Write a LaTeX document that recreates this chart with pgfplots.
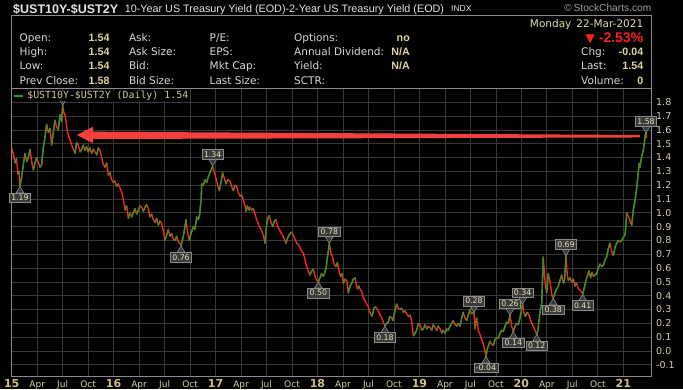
\documentclass[border=0pt]{standalone}
\usepackage{fontspec}
\usepackage{pgfplots}
\usepackage{pgfplotstable}
\pgfplotsset{compat=1.18}
\setmainfont{DejaVu Sans}
\newfontfamily\lib{Liberation Sans}
\newfontfamily\dmono{DejaVu Sans Mono}
\definecolor{bordergray}{HTML}{8C8C8C}
\definecolor{gridgray}{HTML}{383838}
\definecolor{tickbeige}{HTML}{D6CFA6}
\definecolor{yearbeige}{HTML}{CDBF85}
\definecolor{lblgray}{HTML}{D8D8D8}
\definecolor{valbeige}{HTML}{DCD4A0}
\definecolor{hdrgray}{HTML}{E4E4E4}
\definecolor{upgreen}{HTML}{1FA01F}
\definecolor{downred}{HTML}{FF2424}
\definecolor{arrowred}{HTML}{F43F3F}
\definecolor{boxfill}{HTML}{3A3A3A}
\definecolor{boxdraw}{HTML}{8A8A8A}
\definecolor{boxtext}{HTML}{EAE2BA}
\definecolor{legtext}{HTML}{D0C8A0}
\definecolor{pctred}{HTML}{FF2020}

\pgfdeclareplotmark{tipup}{%
  \pgfpathmoveto{\pgfqpoint{0pt}{0pt}}%
  \pgfpathlineto{\pgfqpoint{4pt}{-6.4pt}}%
  \pgfpathlineto{\pgfqpoint{-4pt}{-6.4pt}}%
  \pgfpathclose
  \pgfusepathqfillstroke}
\pgfdeclareplotmark{tipdown}{%
  \pgfpathmoveto{\pgfqpoint{0pt}{0pt}}%
  \pgfpathlineto{\pgfqpoint{4pt}{6.4pt}}%
  \pgfpathlineto{\pgfqpoint{-4pt}{6.4pt}}%
  \pgfpathclose
  \pgfusepathqfillstroke}

\newcommand{\yr}[1]{\textcolor{yearbeige}{\bfseries\fontsize{11}{12}\selectfont #1}}
\newcommand{\lbl}[3]{\node[anchor=base west, inner sep=0pt, text=lblgray, font=\fontsize{10.5}{12}\selectfont] at (#1pt,#2pt) {#3};}
\newcommand{\val}[3]{\node[anchor=base east, inner sep=0pt, text=valbeige, font=\lib\bfseries\fontsize{10.7}{12}\selectfont] at (#1pt,#2pt) {#3};}

\pgfplotstableread{
x y
2015.000 1.47
2015.018 1.42
2015.032 1.36
2015.047 1.39
2015.062 1.28
2015.072 1.30
2015.081 1.19
2015.096 1.25
2015.111 1.33
2015.130 1.43
2015.147 1.37
2015.163 1.40
2015.180 1.46
2015.194 1.38
2015.212 1.31
2015.229 1.36
2015.245 1.40
2015.263 1.36
2015.278 1.33
2015.294 1.35
2015.310 1.47
2015.327 1.55
2015.343 1.64
2015.359 1.58
2015.376 1.61
2015.392 1.49
2015.408 1.58
2015.425 1.67
2015.441 1.62
2015.457 1.60
2015.474 1.71
2015.489 1.66
2015.500 1.78
2015.513 1.72
2015.523 1.71
2015.540 1.62
2015.555 1.56
2015.572 1.53
2015.589 1.49
2015.604 1.46
2015.621 1.43
2015.638 1.51
2015.653 1.49
2015.670 1.44
2015.687 1.46
2015.702 1.49
2015.719 1.45
2015.736 1.48
2015.751 1.44
2015.768 1.47
2015.785 1.43
2015.801 1.46
2015.817 1.44
2015.834 1.42
2015.850 1.47
2015.866 1.45
2015.883 1.40
2015.899 1.35
2015.915 1.33
2015.932 1.36
2015.948 1.27
2015.964 1.29
2015.981 1.24
2015.997 1.22
2016.013 1.23
2016.030 1.19
2016.046 1.21
2016.062 1.18
2016.079 1.15
2016.095 1.10
2016.112 1.02
2016.128 1.05
2016.144 0.96
2016.161 1.00
2016.177 0.97
2016.193 1.00
2016.210 1.03
2016.226 0.99
2016.242 1.02
2016.259 1.05
2016.275 1.04
2016.291 1.01
2016.308 1.04
2016.324 1.06
2016.340 1.03
2016.357 0.97
2016.374 0.99
2016.389 0.95
2016.406 0.93
2016.423 0.96
2016.438 0.91
2016.455 0.94
2016.472 0.92
2016.487 0.87
2016.504 0.80
2016.521 0.84
2016.536 0.88
2016.553 0.83
2016.570 0.85
2016.585 0.81
2016.602 0.80
2016.619 0.83
2016.634 0.79
2016.651 0.78
2016.661 0.76
2016.684 0.83
2016.700 0.90
2016.710 0.95
2016.725 0.86
2016.742 0.80
2016.759 0.85
2016.782 0.90
2016.798 0.88
2016.815 0.97
2016.831 0.95
2016.844 0.99
2016.859 1.10
2016.864 1.21
2016.880 1.20
2016.896 1.24
2016.913 1.22
2016.929 1.26
2016.945 1.29
2016.962 1.32
2016.972 1.34
2016.985 1.30
2016.997 1.27
2017.011 1.23
2017.024 1.19
2017.037 1.16
2017.053 1.22
2017.070 1.29
2017.086 1.25
2017.102 1.21
2017.122 1.24
2017.142 1.23
2017.158 1.19
2017.174 1.16
2017.191 1.20
2017.207 1.19
2017.223 1.15
2017.240 1.12
2017.256 1.13
2017.272 1.09
2017.289 1.05
2017.299 1.01
2017.313 1.05
2017.328 1.02
2017.338 1.04
2017.355 1.02
2017.370 1.03
2017.387 0.99
2017.404 0.95
2017.419 0.92
2017.436 0.89
2017.453 0.87
2017.468 0.84
2017.485 0.78
2017.502 0.92
2017.514 0.96
2017.527 0.98
2017.544 0.93
2017.561 0.90
2017.576 0.94
2017.593 0.95
2017.610 0.90
2017.625 0.88
2017.645 0.85
2017.665 0.83
2017.678 0.80
2017.691 0.78
2017.708 0.82
2017.723 0.84
2017.743 0.86
2017.763 0.84
2017.779 0.81
2017.796 0.78
2017.812 0.77
2017.828 0.75
2017.845 0.72
2017.861 0.71
2017.877 0.66
2017.894 0.61
2017.910 0.58
2017.926 0.55
2017.943 0.58
2017.959 0.59
2017.976 0.54
2017.992 0.51
2018.008 0.50
2018.025 0.53
2018.041 0.56
2018.057 0.54
2018.074 0.57
2018.088 0.62
2018.096 0.67
2018.106 0.72
2018.116 0.78
2018.133 0.70
2018.149 0.68
2018.162 0.63
2018.182 0.61
2018.196 0.64
2018.211 0.58
2018.226 0.54
2018.240 0.56
2018.253 0.49
2018.270 0.52
2018.287 0.51
2018.302 0.42
2018.319 0.47
2018.336 0.49
2018.351 0.52
2018.368 0.53
2018.381 0.48
2018.391 0.45
2018.407 0.47
2018.422 0.44
2018.434 0.43
2018.449 0.39
2018.466 0.36
2018.483 0.34
2018.498 0.32
2018.515 0.28
2018.532 0.25
2018.545 0.28
2018.554 0.31
2018.571 0.32
2018.587 0.30
2018.603 0.28
2018.620 0.25
2018.636 0.23
2018.650 0.20
2018.662 0.18
2018.679 0.20
2018.695 0.21
2018.711 0.25
2018.728 0.24
2018.741 0.22
2018.751 0.26
2018.763 0.30
2018.777 0.34
2018.793 0.31
2018.810 0.30
2018.826 0.31
2018.842 0.28
2018.859 0.29
2018.875 0.27
2018.891 0.25
2018.908 0.26
2018.924 0.22
2018.940 0.11
2018.957 0.13
2018.973 0.15
2018.989 0.20
2019.006 0.19
2019.022 0.15
2019.038 0.16
2019.055 0.19
2019.071 0.16
2019.087 0.18
2019.104 0.17
2019.120 0.15
2019.136 0.19
2019.153 0.17
2019.170 0.15
2019.185 0.18
2019.202 0.16
2019.219 0.13
2019.234 0.15
2019.251 0.13
2019.268 0.16
2019.283 0.15
2019.300 0.18
2019.317 0.20
2019.332 0.22
2019.349 0.19
2019.366 0.18
2019.381 0.20
2019.398 0.18
2019.415 0.24
2019.430 0.28
2019.447 0.24
2019.464 0.22
2019.480 0.26
2019.496 0.30
2019.513 0.27
2019.535 0.28
2019.545 0.16
2019.562 0.24
2019.578 0.15
2019.594 0.12
2019.611 0.08
2019.627 0.05
2019.640 0.01
2019.653 -0.04
2019.668 0.02
2019.683 0.05
2019.692 0.07
2019.709 0.05
2019.725 0.04
2019.741 0.08
2019.758 0.10
2019.774 0.09
2019.791 0.13
2019.807 0.15
2019.823 0.14
2019.840 0.18
2019.856 0.21
2019.872 0.20
2019.889 0.26
2019.905 0.18
2019.921 0.14
2019.938 0.18
2019.954 0.20
2019.970 0.19
2019.987 0.24
2020.003 0.30
2020.013 0.34
2020.026 0.27
2020.039 0.25
2020.055 0.28
2020.068 0.27
2020.085 0.24
2020.102 0.20
2020.117 0.18
2020.134 0.15
2020.151 0.12
2020.163 0.15
2020.173 0.22
2020.183 0.28
2020.200 0.35
2020.207 0.50
2020.215 0.68
2020.227 0.55
2020.237 0.47
2020.249 0.42
2020.264 0.56
2020.276 0.52
2020.288 0.47
2020.301 0.40
2020.313 0.38
2020.330 0.42
2020.347 0.45
2020.362 0.47
2020.379 0.51
2020.396 0.55
2020.412 0.49
2020.425 0.52
2020.438 0.69
2020.451 0.55
2020.461 0.51
2020.477 0.53
2020.494 0.50
2020.510 0.52
2020.526 0.47
2020.543 0.49
2020.559 0.45
2020.575 0.44
2020.588 0.43
2020.602 0.41
2020.618 0.46
2020.634 0.51
2020.651 0.55
2020.664 0.58
2020.678 0.53
2020.693 0.57
2020.706 0.54
2020.723 0.55
2020.739 0.56
2020.755 0.60
2020.772 0.63
2020.788 0.61
2020.804 0.62
2020.821 0.66
2020.837 0.68
2020.853 0.74
2020.870 0.78
2020.886 0.72
2020.902 0.69
2020.919 0.75
2020.935 0.78
2020.951 0.80
2020.968 0.79
2020.985 0.80
2021.000 0.82
2021.017 0.84
2021.025 0.90
2021.034 1.00
2021.046 0.98
2021.059 0.96
2021.071 0.93
2021.083 0.91
2021.098 1.02
2021.115 1.09
2021.132 1.18
2021.147 1.29
2021.157 1.36
2021.164 1.33
2021.181 1.41
2021.196 1.45
2021.206 1.50
2021.213 1.55
2021.223 1.58
2021.230 1.54
}\spread
\pgfplotstablecreatecol[create col/expr={\nextrow{x}-\thisrow{x}}]{dx}{\spread}
\pgfplotstablecreatecol[create col/expr={\nextrow{y}-\thisrow{y}}]{dy}{\spread}

\begin{document}
\begin{tikzpicture}
\useasboundingbox (0,0) rectangle (683pt,389pt);
\fill[black] (0,0) rectangle (683pt,389pt);
% header line
\node[anchor=base west, inner sep=0pt, text=hdrgray, font=\lib\bfseries\fontsize{12.5}{14}\selectfont] at (13pt,375.7pt) {\$UST10Y-\$UST2Y};
\node[anchor=base west, inner sep=0pt, text=hdrgray, font=\lib\fontsize{10.8}{12}\selectfont] at (124.6pt,376.3pt) {10-Year US Treasury Yield (EOD)-2-Year US Treasury Yield (EOD)};
\node[anchor=base west, inner sep=0pt, text=hdrgray, font=\lib\fontsize{8.5}{10}\selectfont] at (451pt,377.5pt) {INDX};
\node[anchor=base east, inner sep=0pt, text=gray!75, font=\lib\fontsize{10.2}{12}\selectfont] at (651.5pt,377.3pt) {\textcopyright\,StockCharts.com};
% panel
\draw[bordergray, line width=0.8pt] (11.7pt,301pt) rectangle (651.5pt,374pt);
\lbl{19.5}{347.5}{Open:}
\lbl{19.5}{333.3}{High:}
\lbl{19.5}{319.1}{Low:}
\lbl{19.5}{304.9}{Prev Close:}
\val{109.7}{347.5}{1.54}
\val{109.7}{333.3}{1.54}
\val{109.7}{319.1}{1.54}
\val{109.7}{304.9}{1.58}
\lbl{128.8}{347.5}{Ask:}
\lbl{128.8}{333.3}{Ask Size:}
\lbl{128.8}{319.1}{Bid:}
\lbl{128.8}{304.9}{Bid Size:}
\lbl{209.5}{347.5}{P/E:}
\lbl{209.5}{333.3}{EPS:}
\lbl{209.5}{319.1}{Mkt Cap:}
\lbl{209.5}{304.9}{Last Size:}
\lbl{294}{347.5}{Options:}
\lbl{294}{333.3}{Annual Dividend:}
\lbl{294}{319.1}{Yield:}
\lbl{294}{304.9}{SCTR:}
\val{410}{347.5}{no}
\val{410}{333.3}{N/A}
\val{410}{319.1}{N/A}
\node[anchor=base east, inner sep=0pt, text=valbeige!85!white, font=\fontsize{10.5}{12}\selectfont] at (643.4pt,361.7pt) {Monday\hspace{5pt}22-Mar-2021};
\node[anchor=base east, inner sep=0pt, text=pctred] at (643.4pt,346.3pt) {{\fontsize{12}{14}\selectfont\char"25BC}\hspace{4pt}{\lib\bfseries\fontsize{14}{16}\selectfont -2.53\%}};
\lbl{581}{333.3}{Chg:}
\lbl{581}{319.1}{Last:}
\lbl{581}{304.9}{Volume:}
\val{643.4}{333.3}{-0.04}
\val{643.4}{319.1}{1.54}
\val{643.4}{304.9}{0}

\begin{axis}[
  at={(11.7pt,13pt)}, anchor=south west,
  scale only axis, width=639.8pt, height=288pt,
  xmin=2015, xmax=2021.277, ymin=-0.181, ymax=1.903,
  clip=false,
  axis background/.style={fill=black},
  axis line style={draw=bordergray, line width=0.8pt},
  grid=major,
  major grid style={draw=gridgray, line width=0.7pt},
  tick style={draw=none},
  /pgf/number format/assume math mode=true,
  xtick={2015,2015.25,2015.5,2015.75,2016,2016.25,2016.5,2016.75,2017,2017.25,2017.5,2017.75,2018,2018.25,2018.5,2018.75,2019,2019.25,2019.5,2019.75,2020,2020.25,2020.5,2020.75,2021},
  xticklabels={\yr{15},Apr,Jul,Oct,\yr{16},Apr,Jul,Oct,\yr{17},Apr,Jul,Oct,\yr{18},Apr,Jul,Oct,\yr{19},Apr,Jul,Oct,\yr{20},Apr,Jul,Oct,\yr{21}},
  xticklabel style={anchor=base, yshift=-11pt, inner sep=0pt, text=tickbeige, font=\fontsize{9}{10}\selectfont},
  ytick={-0.1,0,0.1,0.2,0.3,0.4,0.5,0.6,0.7,0.8,0.9,1.0,1.1,1.2,1.3,1.4,1.5,1.6,1.7,1.8},
  yticklabel pos=right,
  yticklabel={\pgfmathprintnumber[fixed,fixed zerofill,precision=1]{\tick}},
  yticklabel style={anchor=west, xshift=4.5pt, inner sep=0pt, text=tickbeige, font=\fontsize{9.5}{10}\selectfont},
  legend style={at={(0,1)}, anchor=north west, xshift=1.3pt, yshift=-2.5pt, fill=black, draw=none, inner sep=0pt, text=legtext, font=\dmono\fontsize{9.9}{11}\selectfont, nodes={inner sep=1pt, text height=7.2pt, text depth=1.5pt}, column sep=2pt},
  legend image code/.code={\draw[#1] (0pt,0pt) -- (8.7pt,0pt);},
]
\addlegendimage{upgreen, line width=2.4pt}
\addlegendentry{\$UST10Y-\$UST2Y (Daily) 1.54}

\addplot[forget plot, downred, line width=1.35pt, line join=round] table[x=x,y=y]{\spread};
\addplot[forget plot, upgreen, line width=1.35pt, line cap=round,
  quiver={u=\thisrow{dx}, v=\thisrow{dy}},
  restrict expr to domain={\thisrow{dy}}{0.00001:10}] table[x=x,y=y]{\spread};

% arrow annotation
\addplot[forget plot, fill=arrowred, draw=none] coordinates {
(2015.638,1.563) (2015.80,1.623) (2015.80,1.587) (2021.164,1.563)
(2021.164,1.545) (2015.80,1.534) (2015.80,1.503)} -- cycle;

% low markers
\addplot[forget plot, only marks, mark=tipup, mark options={fill=boxfill, draw=boxdraw, line width=0.6pt},
  point meta=explicit symbolic, nodes near coords, nodes near coords align={below},
  every node near coord/.append style={yshift=-6.1pt, fill=boxfill, draw=boxdraw, line width=0.6pt, text=boxtext, font=\fontsize{7.8}{9}\selectfont, inner xsep=2pt, inner ysep=2pt, text height=5.7pt, text depth=0pt}]
coordinates {
(2015.081,1.19) [1.19]
(2016.661,0.76) [0.76]
(2018.008,0.50) [0.50]
(2018.662,0.18) [0.18]
(2019.653,-0.04) [-0.04]
(2019.921,0.14) [0.14]
(2020.151,0.12) [0.12]
(2020.313,0.38) [0.38]
(2020.602,0.41) [0.41]
};
% high markers
\addplot[forget plot, only marks, mark=tipdown, mark options={fill=boxfill, draw=boxdraw, line width=0.6pt},
  point meta=explicit symbolic, nodes near coords, nodes near coords align={above},
  every node near coord/.append style={yshift=6.1pt, fill=boxfill, draw=boxdraw, line width=0.6pt, text=boxtext, font=\fontsize{7.8}{9}\selectfont, inner xsep=2pt, inner ysep=2pt, text height=5.7pt, text depth=0pt}]
coordinates {
(2016.972,1.34) [1.34]
(2018.116,0.78) [0.78]
(2019.535,0.28) [0.28]
(2019.889,0.26) [0.26]
(2020.013,0.34) [0.34]
(2020.438,0.69) [0.69]
(2021.223,1.58) [1.58]
};
\addplot[forget plot, only marks, mark=tipdown, mark options={fill=boxfill, draw=boxdraw, line width=0.6pt}]
coordinates {(2015.500,1.78)};
\end{axis}
\end{tikzpicture}
\end{document}
